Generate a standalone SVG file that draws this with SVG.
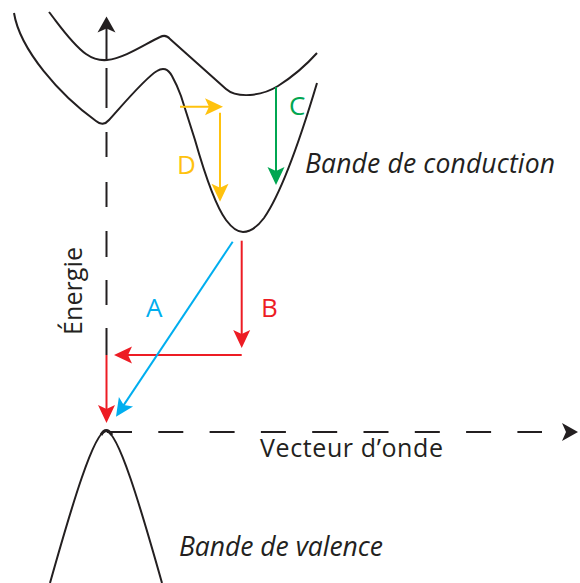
<svg xmlns="http://www.w3.org/2000/svg" width="580" height="583" viewBox="0 0 580 583">
<style>
.band{fill:none;stroke:#231f20;stroke-width:2;stroke-linejoin:round}
.axis{fill:none;stroke:#231f20;stroke-width:2}
.t{font-family:"Open Sans","Liberation Sans",sans-serif;font-size:25px;fill:#231f20}
.it{font-style:italic;font-size:26.5px}
.lab{font-size:26px}
.red{stroke:#ed1c24;stroke-width:2;fill:none}
.blue{stroke:#00aeef;stroke-width:2;fill:none}
.green{stroke:#00a651;stroke-width:2;fill:none}
.yellow{stroke:#ffc20e;stroke-width:2;fill:none}
</style>
<defs>
<marker id="ah-red" markerUnits="userSpaceOnUse" markerWidth="40" markerHeight="40" refX="0" refY="0" orient="auto" overflow="visible"><path d="M4,0 L-14,-8.5 L-10,0 L-14,8.5 Z" fill="#ed1c24"/></marker>
<marker id="ah-blue" markerUnits="userSpaceOnUse" markerWidth="40" markerHeight="40" refX="0" refY="0" orient="auto" overflow="visible"><path d="M4,0 L-14,-8.5 L-10,0 L-14,8.5 Z" fill="#00aeef"/></marker>
<marker id="ah-green" markerUnits="userSpaceOnUse" markerWidth="40" markerHeight="40" refX="0" refY="0" orient="auto" overflow="visible"><path d="M4,0 L-14,-8.5 L-10,0 L-14,8.5 Z" fill="#00a651"/></marker>
<marker id="ah-yellow" markerUnits="userSpaceOnUse" markerWidth="40" markerHeight="40" refX="0" refY="0" orient="auto" overflow="visible"><path d="M4,0 L-14,-8.5 L-10,0 L-14,8.5 Z" fill="#ffc20e"/></marker>
<marker id="ah-black" markerUnits="userSpaceOnUse" markerWidth="40" markerHeight="40" refX="0" refY="0" orient="auto" overflow="visible"><path d="M4,0 L-12,-9 L-8,0 L-12,9 Z" fill="#231f20"/></marker>
</defs>

<g id="axes">
<path class="axis" d="M106.5,60 V20.5" marker-end="url(#ah-black)"/>
<path class="axis" d="M106.5,68 V108 M106.5,132 V157 M106.5,182 V207 M106.5,231 V257 M106.5,280 V305 M106.5,328 V355"/>
<path class="axis" d="M107,432 H542" stroke-dasharray="25 26.3"/>
<path d="M578,432 L562,423 L566,432 L562,441 Z" fill="#231f20"/>
</g>

<g id="conduction-band-upper">
<path class="band" d="M49,12 C60,26 72,44 86,54 Q96,61 107,60 C125,58 145,44 160,37 Q166,34 170,39 L226,89 Q234,96 250,95 Q265,94 278,86 Q300,72 317,53"/>
</g>
<g id="conduction-band">
<path class="band" d="M14,13 C20,50 60,95 96,121 Q103,127 109,120 C120,108 145,78 157,71 Q166,65 172,76 Q177,85 181,96 L195,140 C205,175 215,205 226,220 C232,228 237,232 243,232 C251,232 258,226 264,218 C280,195 300,140 317,83"/>
</g>
<g id="valence-band">
<path class="band" d="M50,583 C72,505 94,431 106,431 C118,431 140,505 162,583"/>
<path d="M101,435 Q106,426 112,435" fill="none" stroke="#231f20" stroke-width="3"/>
</g>

<g id="connectors">
<path class="yellow" d="M180,106.7 H219" marker-end="url(#ah-yellow)"/>
<path class="yellow" d="M220,112.7 V197.7" marker-end="url(#ah-yellow)"/>
<path class="green" d="M276,87 V181" marker-end="url(#ah-green)"/>
<path class="red" d="M241.7,240.7 V344" marker-end="url(#ah-red)"/>
<path class="red" d="M241.7,355 H118" marker-end="url(#ah-red)"/>
<path class="red" d="M106.5,355 V419" marker-end="url(#ah-red)"/>
<path class="blue" d="M232.7,241.7 L118.2,413.4" marker-end="url(#ah-blue)"/>
</g>

<g id="labels">
<text class="t lab" x="146" y="317" style="fill:#00aeef">A</text>
<text class="t lab" x="261" y="317" style="fill:#ed1c24">B</text>
<text class="t lab" x="289" y="115" style="fill:#00a651">C</text>
<text class="t lab" x="177" y="174" style="fill:#ffc20e">D</text>
<text class="t it" x="305" y="173" textLength="250">Bande de conduction</text>
<text class="t" x="260" y="457" textLength="183">Vecteur d’onde</text>
<text class="t it" x="179" y="556" textLength="204">Bande de valence</text>
<text class="t" transform="translate(82,335) rotate(-90)" x="0" y="0" textLength="88">Énergie</text>
</g>
</svg>
